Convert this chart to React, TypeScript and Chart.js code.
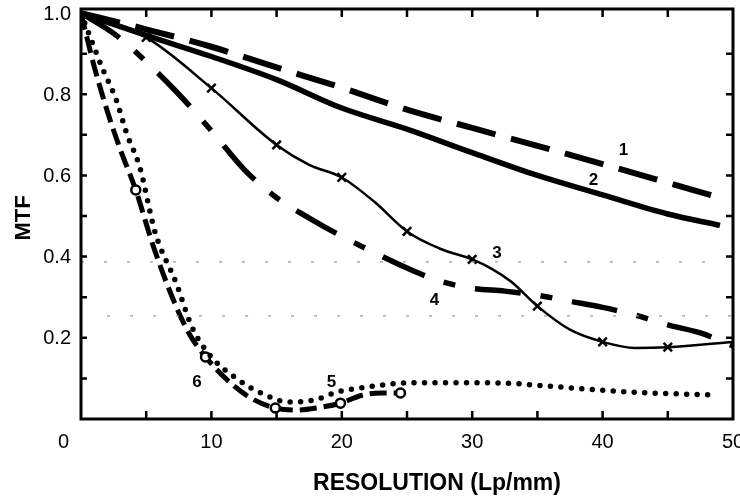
import { useEffect, useRef } from "react";
import { Chart, registerables } from "chart.js";

Chart.register(...registerables);

// Curve 1: long dashes
const c1X = [0, 5, 10, 15, 20, 25, 30, 35, 40, 45, 49];
const c1Y = [1.0, 0.96, 0.917, 0.866, 0.816, 0.762, 0.717, 0.673, 0.628, 0.582, 0.545];

// Curve 2: heavy solid
const c2X = [0, 5, 10, 15, 20, 25, 30, 35, 40, 45, 49];
const c2Y = [1.0, 0.945, 0.893, 0.836, 0.766, 0.714, 0.656, 0.6, 0.552, 0.505, 0.477];

// Curve 3: thin solid with x markers
const c3X = [0, 5, 10, 15, 17.5, 20, 22.5, 25, 27.5, 30, 31.5, 33, 35, 37.5, 40, 42.5, 45, 50];
const c3Y = [1.0, 0.94, 0.815, 0.675, 0.626, 0.595, 0.535, 0.462, 0.42, 0.393, 0.37, 0.338, 0.278, 0.22, 0.19, 0.175, 0.177, 0.19];
const c3MarkX = [5, 10, 15, 20, 25, 30, 35, 40, 45];

// Curve 4: dash-dot
const c4X = [0, 2.5, 5, 7.5, 10, 12.5, 15, 17.5, 20, 22.5, 25, 27.5, 30, 32.5, 35, 37.5, 40, 42.5, 45, 47.5, 50];
const c4Y = [1.0, 0.95, 0.88, 0.8, 0.71, 0.615, 0.545, 0.495, 0.45, 0.41, 0.372, 0.34, 0.322, 0.315, 0.305, 0.29, 0.275, 0.256, 0.232, 0.212, 0.18];

// Curve 5: dotted
const c5X = [0, 0.5, 1.6, 2.7, 3.5, 4.5, 5.7, 7.3, 8.5, 10, 12.1, 13.8, 15.9, 17.9, 19.7, 22, 25, 31.6, 36.6, 41.7, 48.6];
const c5Y = [1.0, 0.958, 0.867, 0.786, 0.704, 0.621, 0.458, 0.335, 0.227, 0.153, 0.096, 0.064, 0.042, 0.047, 0.067, 0.079, 0.089, 0.089, 0.079, 0.067, 0.059];

// Curve 6: short dashes with open circle markers
const c6X = [0, 1, 2, 3, 4.2, 5.5, 7, 8.3, 9.55, 11.5, 13, 14.9, 16.5, 18.2, 19.9, 21.5, 23, 24.5];
const c6Y = [1.0, 0.87, 0.76, 0.665, 0.564, 0.43, 0.3, 0.21, 0.153, 0.088, 0.052, 0.027, 0.022, 0.028, 0.039, 0.058, 0.064, 0.064];
const c6MarkX = [4.2, 9.55, 14.9, 19.9, 24.5];

// Faint reference levels
const refLevels = [0.387, 0.254];
const refStartX = [0, 2];
const refEndX = [48, 50];

// Axis ticks and labels
const xLabelValues = [0, 10, 20, 30, 40, 50];
const xLabels = ["0", "10", "20", "30", "40", "50"];
const yLabelValues = [0.2, 0.4, 0.6, 0.8, 1.0];
const yLabels = ["0.2", "0.4", "0.6", "0.8", "1.0"];
const xTickValues = [5, 10, 15, 20, 25, 30, 35, 40, 45];
const yTickValues = [0.1, 0.2, 0.3, 0.4, 0.5, 0.6, 0.7, 0.8, 0.9];

// Curve numbers
const curveNames = ["1", "2", "3", "4", "5", "6"];
const curveNameX = [41.6, 39.3, 31.9, 27.1, 19.2, 8.9];
const curveNameY = [0.661, 0.587, 0.407, 0.292, 0.09, 0.09];

const xTitle = "RESOLUTION (Lp/mm)";
const yTitle = "MTF";

const FONT = "'Liberation Sans', Arial, Helvetica, sans-serif";

const pts = (xs: number[], ys: number[]) => xs.map((x, i) => ({ x, y: ys[i] }));

const framePlugin = {
  id: "frame",
  afterDatasetsDraw(chart: any) {
    const { ctx, chartArea: a, scales } = chart;
    const xs = scales.x;
    const ys = scales.y;
    ctx.save();
    ctx.strokeStyle = "#000";
    ctx.lineWidth = 3;
    ctx.strokeRect(a.left, a.top, a.right - a.left, a.bottom - a.top);

    ctx.lineWidth = 2.5;
    ctx.beginPath();
    xTickValues.forEach((v) => {
      const px = xs.getPixelForValue(v);
      ctx.moveTo(px, a.bottom);
      ctx.lineTo(px, a.bottom - 8);
      ctx.moveTo(px, a.top);
      ctx.lineTo(px, a.top + 8);
    });
    yTickValues.forEach((v) => {
      const py = ys.getPixelForValue(v);
      ctx.moveTo(a.left, py);
      ctx.lineTo(a.left + 6, py);
      ctx.moveTo(a.right, py);
      ctx.lineTo(a.right - 7, py);
    });
    ctx.stroke();

    ctx.fillStyle = "#000";
    ctx.font = `20px ${FONT}`;
    ctx.textBaseline = "middle";
    xLabelValues.forEach((v, i) => {
      const px = xs.getPixelForValue(v);
      if (v === 0) {
        ctx.textAlign = "right";
        ctx.fillText(xLabels[i], px - 12, a.bottom + 23);
      } else {
        ctx.textAlign = "center";
        ctx.fillText(xLabels[i], px, a.bottom + 23);
      }
    });
    ctx.textAlign = "right";
    yLabelValues.forEach((v, i) => {
      const py = ys.getPixelForValue(v);
      ctx.fillText(yLabels[i], a.left - 10, py + 1);
    });

    ctx.font = `bold 17px ${FONT}`;
    ctx.textAlign = "center";
    curveNames.forEach((n, i) => {
      ctx.fillText(n, xs.getPixelForValue(curveNameX[i]), ys.getPixelForValue(curveNameY[i]));
    });

    ctx.font = `bold 23px ${FONT}`;
    ctx.textAlign = "center";
    ctx.fillText(xTitle, 437, 484);

    ctx.translate(24, 218);
    ctx.rotate(-Math.PI / 2);
    ctx.font = `bold 22px ${FONT}`;
    ctx.fillText(yTitle, 0, 0);
    ctx.restore();
  },
};

export default function App() {
  const ref = useRef<HTMLCanvasElement | null>(null);

  useEffect(() => {
    document.body.style.margin = "0";
    const canvas = ref.current;
    if (!canvas) return;

    const base = {
      fill: false,
      borderColor: "#000",
      backgroundColor: "#000",
      pointRadius: 0,
      pointHoverRadius: 0,
      cubicInterpolationMode: "monotone" as const,
      borderCapStyle: "butt" as const,
    };

    const refSets = refLevels.map((lvl, i) => ({
      ...base,
      data: [
        { x: refStartX[i], y: lvl },
        { x: refEndX[i], y: lvl },
      ],
      borderColor: "#9a9a9a",
      borderWidth: 1.2,
      borderDash: [3, 20],
      cubicInterpolationMode: "default" as const,
      tension: 0,
    }));

    const chart = new Chart(canvas, {
      type: "line",
      data: {
        datasets: [
          ...refSets,
          { ...base, data: pts(c1X, c1Y), borderWidth: 6, borderDash: [40, 16] },
          { ...base, data: pts(c2X, c2Y), borderWidth: 5.5 },
          {
            ...base,
            data: pts(c3X, c3Y),
            borderWidth: 2.5,
            pointStyle: "crossRot",
            pointBorderWidth: 2.5,
            pointBorderColor: "#000",
            pointRadius: (c: any) => (c3MarkX.includes(c3X[c.dataIndex]) ? 6 : 0),
          },
          { ...base, data: pts(c4X, c4Y), borderWidth: 5.5, borderDash: [46, 20, 12, 20] },
          {
            ...base,
            data: pts(c5X, c5Y),
            borderWidth: 5.5,
            borderDash: [0, 10.5],
            borderCapStyle: "round" as const,
          },
          {
            ...base,
            data: pts(c6X, c6Y),
            borderWidth: 5,
            borderDash: [17, 7],
            pointStyle: "circle",
            pointBackgroundColor: "#fff",
            pointBorderColor: "#000",
            pointBorderWidth: 2.5,
            pointRadius: (c: any) => (c6MarkX.includes(c6X[c.dataIndex]) ? 4.5 : 0),
          },
        ],
      },
      options: {
        animation: false,
        responsive: false,
        devicePixelRatio: 1,
        layout: { padding: { left: 81, right: 3, top: 9, bottom: 82 } },
        plugins: { legend: { display: false }, tooltip: { enabled: false } },
        events: [],
        scales: {
          x: { type: "linear", min: 0, max: 50, display: false },
          y: { type: "linear", min: 0, max: 1.01, display: false },
        },
      },
      plugins: [framePlugin],
    });

    return () => chart.destroy();
  }, []);

  return (
    <div style={{ position: "absolute", left: 0, top: 0, width: 740, height: 501, background: "#fff" }}>
      <canvas ref={ref} width={740} height={501} style={{ display: "block" }} />
    </div>
  );
}
